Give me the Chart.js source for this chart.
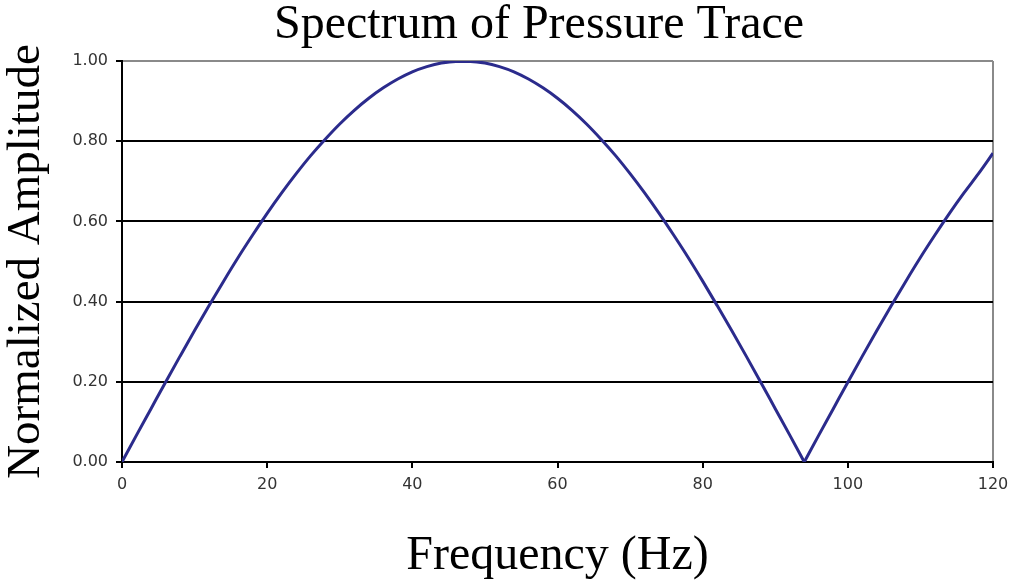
<!DOCTYPE html>
<html>
<head>
<meta charset="utf-8">
<script src="https://cdn.jsdelivr.net/npm/chart.js@4"></script>
<style>
  html, body { margin: 0; padding: 0; background: #fff; }
  #wrap { width: 1013px; height: 583px; position: relative; }
</style>
</head>
<body>
<div id="wrap"><canvas id="chart"></canvas></div>
<script>
// values
const freqHz = [
  0, 2, 4, 6, 8, 10, 12, 14, 16, 18, 20, 22, 24, 26, 28, 30, 32, 34, 36, 38,
  40, 42, 44, 46, 48, 50, 52, 54, 56, 58, 60, 62, 64, 66, 68, 70, 72, 74, 76, 78,
  80, 82, 84, 86, 88, 90, 92, 94, 96, 98, 100, 102, 104, 106, 108, 110, 112, 114, 116, 118, 120
];
const amplitude = [
  0.000, 0.067, 0.133, 0.199, 0.264, 0.328, 0.390, 0.451, 0.510, 0.566,
  0.620, 0.671, 0.719, 0.764, 0.805, 0.843, 0.877, 0.907, 0.933, 0.955,
  0.973, 0.986, 0.995, 0.999, 0.999, 0.995, 0.986, 0.973, 0.955, 0.933,
  0.907, 0.877, 0.843, 0.805, 0.764, 0.719, 0.671, 0.620, 0.566, 0.510,
  0.451, 0.390, 0.328, 0.264, 0.199, 0.133, 0.067, 0.000, 0.067, 0.133,
  0.199, 0.264, 0.328, 0.390, 0.451, 0.510, 0.566, 0.620, 0.671, 0.719, 0.770
];
const xTicks = [0, 20, 40, 60, 80, 100, 120];
const yTicks = [0, 0.2, 0.4, 0.6, 0.8, 1.0];

const titleText = "Spectrum of Pressure Trace";
const xTitle = "Frequency (Hz)";
const yTitle = "Normalized Amplitude";

const serif = "'Liberation Serif', 'Times New Roman', serif";
const tickFont = { family: "'DejaVu Sans', Verdana, sans-serif", size: 16 };
const lineColor = "#2b2b8c";

// split at the notch so both sides keep a sharp corner there
const notch = amplitude.indexOf(0, 1);
const allPoints = freqHz.map((f, i) => ({ x: f, y: amplitude[i] }));
const leftLobe = allPoints.slice(0, notch + 1);
const rightLobe = allPoints.slice(notch);

// title drawn over the plot the way the original sits (a bit left of centre)
const titlePlugin = {
  id: "plotTitle",
  afterDraw(chart) {
    const ctx = chart.ctx;
    ctx.save();
    ctx.font = "48px " + serif;
    ctx.fillStyle = "#000";
    ctx.textAlign = "center";
    ctx.textBaseline = "alphabetic";
    ctx.fillText(titleText, 539, 38);
    ctx.restore();
  }
};

const lineStyle = {
  borderColor: lineColor,
  borderWidth: 3,
  pointRadius: 0,
  cubicInterpolationMode: "monotone",
  fill: false
};

new Chart(document.getElementById("chart"), {
  type: "line",
  data: {
    datasets: [
      { ...lineStyle, data: leftLobe },
      { ...lineStyle, data: rightLobe }
    ]
  },
  options: {
    responsive: true,
    maintainAspectRatio: false,
    animation: false,
    layout: { padding: { left: 0, right: 20, top: 61, bottom: 0 } },
    plugins: {
      legend: { display: false },
      tooltip: { enabled: false },
      title: { display: false }
    },
    scales: {
      x: {
        type: "linear",
        min: 0,
        max: 120,
        afterBuildTicks: (s) => { s.ticks = xTicks.map(v => ({ value: v })); },
        afterFit: (s) => { s.height = 121; s.paddingRight = 0; s.paddingLeft = 0; },
        ticks: { color: "#333", font: tickFont, padding: 7, maxRotation: 0 },
        grid: {
          drawOnChartArea: true,
          color: (ctx) => ctx.tick && ctx.tick.value === 120 ? "#8a8a8a" : "rgba(0,0,0,0)",
          tickColor: "#000",
          tickLength: 6,
          lineWidth: 2
        },
        border: { display: true, color: "#000", width: 2 },
        title: {
          display: true,
          text: xTitle,
          color: "#000",
          font: { family: serif, size: 48, weight: "normal", lineHeight: 1 },
          padding: { top: 0, bottom: 3 }
        }
      },
      y: {
        min: 0,
        max: 1,
        afterBuildTicks: (s) => { s.ticks = yTicks.map(v => ({ value: v })); },
        afterFit: (s) => { s.width = 122; },
        ticks: {
          color: "#333",
          font: tickFont,
          padding: 8,
          callback: (v) => Number(v).toFixed(2)
        },
        grid: {
          color: (ctx) => ctx.tick && ctx.tick.value === 1 ? "#8a8a8a" : "#000",
          tickColor: "#000",
          tickLength: 6,
          lineWidth: 2
        },
        border: { display: true, color: "#000", width: 2 },
        title: {
          display: true,
          text: yTitle,
          color: "#000",
          font: { family: serif, size: 47, weight: "normal", lineHeight: 1 },
          padding: { top: 3, bottom: 0 }
        }
      }
    }
  },
  plugins: [titlePlugin]
});
</script>
</body>
</html>
